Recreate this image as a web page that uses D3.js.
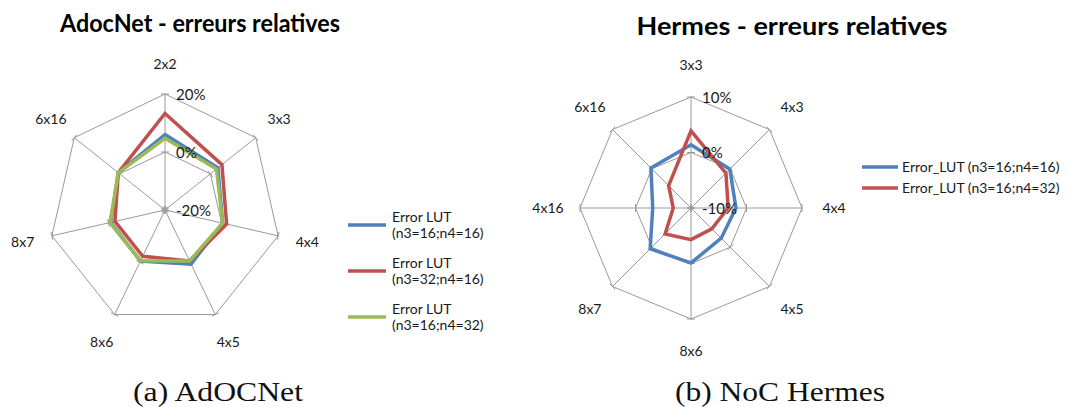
<!DOCTYPE html>
<html>
<head>
<meta charset="utf-8">
<script src="https://cdn.jsdelivr.net/npm/d3@7"></script>
<style>
  html, body { margin: 0; padding: 0; background: #fff; }
  svg { display: block; }
</style>
</head>
<body>
<svg id="fig" width="1069" height="407"></svg>
<script>
// AdocNet : relative errors per mesh size (%)
const adocAxes = ["2x2", "3x3", "4x4", "4x5", "8x6", "8x7", "6x16"];
const adocLut16x16 = [6.0, 3.3, 0.4, 0.7, -0.5, -0.8, 0.6];
const adocLut32x16 = [13.3, 5.1, 1.8, -0.5, -2.3, -2.3, 0.6];
const adocLut16x32 = [4.7, 2.7, 0.4, -0.5, -0.6, -0.6, 0.6];
const adocTicks = [-20, 0, 20];
const adocLegend = [["Error LUT", "(n3=16;n4=16)"], ["Error LUT", "(n3=32;n4=16)"], ["Error LUT", "(n3=16;n4=32)"]];

// Hermes : relative errors per mesh size (%)
const hermesAxes = ["3x3", "4x3", "4x4", "4x5", "8x6", "8x7", "4x16", "6x16"];
const hermesLut16x16 = [1.4, -0.1, -1.9, -2.3, -0.1, 0.4, -3.1, 0.2];
const hermesLut16x32 = [3.9, -1.1, -3.3, -4.7, -4.3, -3.4, -6.8, -4.3];
const hermesTicks = [-10, 0, 10];
const hermesLegend = ["Error_LUT (n3=16;n4=16)", "Error_LUT (n3=16;n4=32)"];

const BLUE = "#4f81bd", RED = "#c0504d", GREEN = "#9bbb59";
const GRID = "#9a9a9a";
const FONT = "Lato, 'Open Sans', sans-serif";
const SERIF = "'Liberation Serif', 'DejaVu Serif', serif";

const svg = d3.select("#fig");

function radar(opt) {
  const g = svg.append("g").attr("transform", `translate(${opt.cx},${opt.cy})`);
  const n = opt.axes.length;
  const ang = d3.scaleLinear().domain([0, n]).range([0, 2 * Math.PI]);
  const r = d3.scaleLinear().domain(d3.extent(opt.ticks)).range([0, opt.radius]);
  const pt = (i, rad) => [rad * Math.sin(ang(i)), -rad * Math.cos(ang(i))];

  // rings
  opt.ticks.forEach(t => {
    if (r(t) <= 0) return;
    g.append("path")
      .attr("d", d3.line()(d3.range(n).map(i => pt(i, r(t)))) + "Z")
      .attr("fill", "none").attr("stroke", GRID).attr("stroke-width", 1);
  });
  // spokes
  d3.range(n).forEach(i => {
    const [x, y] = pt(i, opt.radius);
    g.append("line").attr("x1", 0).attr("y1", 0).attr("x2", x).attr("y2", y)
      .attr("stroke", GRID).attr("stroke-width", 1);
  });
  // tick marks on each spoke at each ring
  const tk = 4;
  opt.ticks.forEach(t => {
    d3.range(n).forEach(i => {
      const a = ang(i);
      const [x, y] = pt(i, r(t));
      const px = Math.cos(a) * tk, py = Math.sin(a) * tk;
      g.append("line").attr("x1", x - px).attr("y1", y - py).attr("x2", x + px).attr("y2", y + py)
        .attr("stroke", GRID).attr("stroke-width", 1);
    });
  });

  // series
  const line = d3.lineRadial()
    .angle((d, i) => ang(i))
    .radius(d => r(d))
    .curve(d3.curveLinearClosed);
  opt.series.forEach(s => {
    g.append("path").attr("d", line(s.values))
      .attr("fill", "none").attr("stroke", s.color)
      .attr("stroke-width", 3.5).attr("stroke-linejoin", "miter");
  });

  // tick labels along the first axis
  opt.ticks.forEach(t => {
    g.append("text").attr("x", 11).attr("y", -r(t) + 5.5)
      .attr("font-family", FONT).attr("font-size", 15).attr("fill", "#1a1a1a")
      .text(t + "%");
  });

  // category labels
  opt.axes.forEach((name, i) => {
    const [x, y] = pt(i, opt.radius + opt.labelGap);
    g.append("text").attr("x", x).attr("y", y + 5)
      .attr("text-anchor", "middle")
      .attr("font-family", FONT).attr("font-size", 14).attr("fill", "#1a1a1a")
      .text(name);
  });
}

// AdocNet chart
svg.append("text").attr("x", 200).attr("y", 32).attr("text-anchor", "middle")
  .attr("font-family", FONT).attr("font-weight", "bold").attr("font-size", 24)
  .attr("textLength", 280).attr("lengthAdjust", "spacingAndGlyphs")
  .text("AdocNet - erreurs relatives");
radar({
  cx: 165, cy: 210, radius: 116, labelGap: 30,
  axes: adocAxes, ticks: adocTicks,
  series: [
    { values: adocLut16x16, color: BLUE },
    { values: adocLut32x16, color: RED },
    { values: adocLut16x32, color: GREEN }
  ]
});
const adocColors = [BLUE, RED, GREEN];
const adocLegY = [225, 271, 317];
adocLegend.forEach((lines, k) => {
  const y = adocLegY[k];
  svg.append("line").attr("x1", 348).attr("x2", 386).attr("y1", y).attr("y2", y)
    .attr("stroke", adocColors[k]).attr("stroke-width", 3.5);
  lines.forEach((t, j) => {
    svg.append("text").attr("x", 392).attr("y", y - 3 + j * 16)
      .attr("font-family", FONT).attr("font-size", 14).attr("fill", "#1a1a1a").text(t);
  });
});

// Hermes chart
svg.append("text").attr("x", 792).attr("y", 35).attr("text-anchor", "middle")
  .attr("font-family", FONT).attr("font-weight", "bold").attr("font-size", 25)
  .attr("textLength", 311).attr("lengthAdjust", "spacingAndGlyphs")
  .text("Hermes - erreurs relatives");
radar({
  cx: 691, cy: 208, radius: 111, labelGap: 32,
  axes: hermesAxes, ticks: hermesTicks,
  series: [
    { values: hermesLut16x16, color: BLUE },
    { values: hermesLut16x32, color: RED }
  ]
});
const hermesColors = [BLUE, RED];
hermesLegend.forEach((t, k) => {
  const y = 167 + k * 21;
  svg.append("line").attr("x1", 862).attr("x2", 898).attr("y1", y).attr("y2", y)
    .attr("stroke", hermesColors[k]).attr("stroke-width", 3.5);
  svg.append("text").attr("x", 902).attr("y", y + 5)
    .attr("font-family", FONT).attr("font-size", 14).attr("fill", "#1a1a1a").text(t);
});

// sub-figure captions
const captions = [["(a) AdOCNet", 218, 170], ["(b) NoC Hermes", 780, 210]];
captions.forEach(([t, x, w]) => {
  svg.append("text").attr("x", x).attr("y", 401).attr("text-anchor", "middle")
    .attr("font-family", SERIF).attr("font-size", 27)
    .attr("textLength", w).attr("lengthAdjust", "spacingAndGlyphs")
    .attr("fill", "#111").text(t);
});
</script>
</body>
</html>
